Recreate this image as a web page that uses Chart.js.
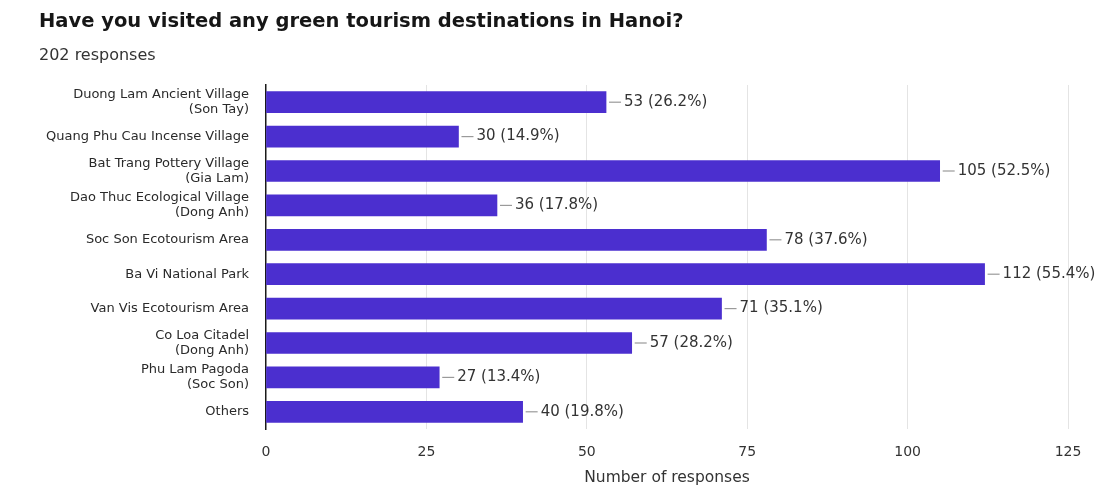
<!DOCTYPE html>
<html>
<head>
<meta charset="utf-8">
<script src="https://cdn.jsdelivr.net/npm/chart.js@4.4.1/dist/chart.umd.min.js"></script>
<style>
  html, body { margin: 0; padding: 0; background: #ffffff; }
  #wrap { width: 1108px; height: 502px; }
</style>
</head>
<body>
<div id="wrap"><canvas id="chart" width="1108" height="502"></canvas></div>
<script>
// Survey question and response count
const questionTitle = 'Have you visited any green tourism destinations in Hanoi?';
const responseNote = '202 responses';

// Destinations (multi-line labels as arrays)
const categories = [
  ['Duong Lam Ancient Village', '(Son Tay)'],
  'Quang Phu Cau Incense Village',
  ['Bat Trang Pottery Village', '(Gia Lam)'],
  ['Dao Thuc Ecological Village', '(Dong Anh)'],
  'Soc Son Ecotourism Area',
  'Ba Vi National Park',
  'Van Vis Ecotourism Area',
  ['Co Loa Citadel', '(Dong Anh)'],
  ['Phu Lam Pagoda', '(Soc Son)'],
  'Others'
];

// Number of responses per destination
const responses = [53, 30, 105, 36, 78, 112, 71, 57, 27, 40];

// Share of respondents as reported next to each bar
const percentages = ['26.2%', '14.9%', '52.5%', '17.8%', '37.6%', '55.4%', '35.1%', '28.2%', '13.4%', '19.8%'];

// X-axis tick values
const xTicks = [0, 25, 50, 75, 100, 125];

const FONT = "'DejaVu Sans', 'Noto Sans', sans-serif";

// Heading text above the plot
const headerPlugin = {
  id: 'header',
  beforeDraw(chart) {
    const ctx = chart.ctx;
    ctx.save();
    ctx.fillStyle = '#ffffff';
    ctx.fillRect(0, 0, chart.width, chart.height);
    ctx.textAlign = 'left';
    ctx.textBaseline = 'middle';
    ctx.fillStyle = '#161616';
    ctx.font = "bold 19.5px " + FONT;
    ctx.fillText(questionTitle, 39, 22);
    ctx.fillStyle = '#333333';
    ctx.font = "16px " + FONT;
    ctx.fillText(responseNote, 39, 56);
    ctx.restore();
  }
};

// Value labels with a short leader line after each bar
const valueLabelPlugin = {
  id: 'valueLabels',
  afterDatasetsDraw(chart) {
    const ctx = chart.ctx;
    const meta = chart.getDatasetMeta(0);
    ctx.save();
    meta.data.forEach((bar, i) => {
      const x = bar.x;
      const y = bar.y;
      ctx.strokeStyle = '#9a9a9a';
      ctx.lineWidth = 1.2;
      ctx.beginPath();
      ctx.moveTo(x + 3, y);
      ctx.lineTo(x + 15, y);
      ctx.stroke();
      ctx.fillStyle = '#333333';
      ctx.font = "15px " + FONT;
      ctx.textAlign = 'left';
      ctx.textBaseline = 'middle';
      ctx.fillText(responses[i] + ' (' + percentages[i] + ')', x + 18, y);
    });
    ctx.restore();
  }
};

new Chart(document.getElementById('chart'), {
  type: 'bar',
  data: {
    labels: categories,
    datasets: [{
      data: responses,
      backgroundColor: '#4b2fcf',
      borderWidth: 0,
      barThickness: 21
    }]
  },
  options: {
    indexAxis: 'y',
    responsive: false,
    animation: false,
    events: [],
    layout: { padding: { top: 85, right: 40, left: 0, bottom: 0 } },
    plugins: {
      legend: { display: false },
      tooltip: { enabled: false },
      title: { display: false }
    },
    scales: {
      x: {
        min: 0,
        max: 125,
        afterBuildTicks(scale) {
          scale.ticks = xTicks.map(v => ({ value: v }));
        },
        afterFit(scale) { scale.height = 73; },
        grid: {
          drawTicks: false,
          color: ctx => (ctx.tick && ctx.tick.value === 0) ? 'rgba(0,0,0,0)' : '#e4e4e4',
          lineWidth: 1
        },
        border: { display: false },
        ticks: {
          padding: 15,
          color: '#333333',
          font: { family: FONT, size: 14 }
        },
        title: {
          display: true,
          text: 'Number of responses',
          color: '#333333',
          font: { family: FONT, size: 15.5 },
          padding: { top: 0, bottom: 15 }
        }
      },
      y: {
        afterFit(scale) { scale.width = 266; },
        grid: { display: false, drawTicks: false },
        border: { display: true, color: '#1a1a1a', width: 1.5 },
        ticks: {
          padding: 17,
          color: '#2a2a2a',
          font: { family: FONT, size: 13, lineHeight: 1.15 }
        }
      }
    }
  },
  plugins: [headerPlugin, valueLabelPlugin]
});
</script>
</body>
</html>
